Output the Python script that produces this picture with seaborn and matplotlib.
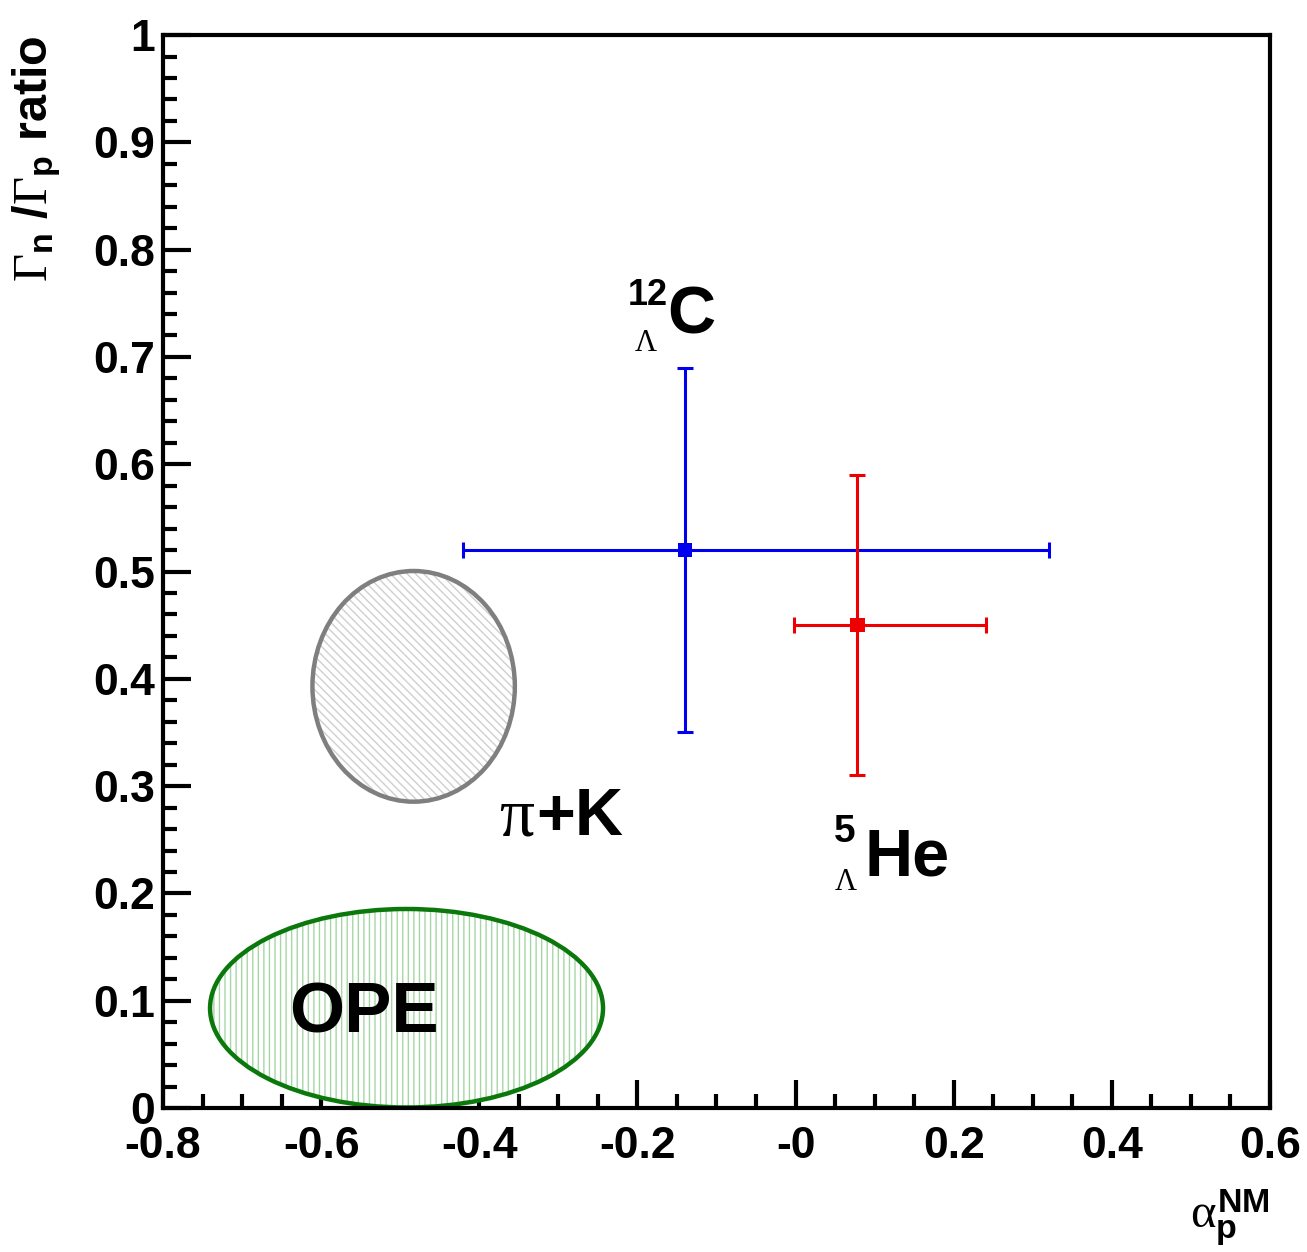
import matplotlib
matplotlib.use("Agg")
import matplotlib.pyplot as plt
import seaborn as sns
import numpy as np
import pandas as pd
from matplotlib.patches import Ellipse
from matplotlib.ticker import FixedLocator, FixedFormatter, MultipleLocator

# measured points (alpha_p^NM , Gamma_n/Gamma_p)
nuclei = ["12C", "5He"]
alpha_vals = [-0.14, 0.078]
alpha_err_lo = [0.28, 0.08]
alpha_err_hi = [0.46, 0.163]
ratio_vals = [0.52, 0.45]
ratio_err = [0.17, 0.14]
point_colors = ["#0000ee", "#ee0000"]

# theory regions: name, centre x, centre y, width, height
regions = ["pi+K", "OPE"]
region_x = [-0.483, -0.492]
region_y = [0.393, 0.093]
region_w = [0.256, 0.497]
region_h = [0.215, 0.185]

xtick_vals = [-0.8, -0.6, -0.4, -0.2, 0.0, 0.2, 0.4, 0.6]
xtick_labels = ["-0.8", "-0.6", "-0.4", "-0.2", "-0", "0.2", "0.4", "0.6"]
ytick_vals = [0, 0.1, 0.2, 0.3, 0.4, 0.5, 0.6, 0.7, 0.8, 0.9, 1.0]
ytick_labels = ["0", "0.1", "0.2", "0.3", "0.4", "0.5", "0.6", "0.7", "0.8", "0.9", "1"]

sns.set_style("ticks")
plt.rcParams["font.family"] = ["Liberation Sans", "DejaVu Sans"]
plt.rcParams["mathtext.fontset"] = "custom"
plt.rcParams["mathtext.rm"] = "Liberation Serif"
plt.rcParams["mathtext.it"] = "Liberation Serif"
plt.rcParams["mathtext.bf"] = "Liberation Sans:bold"
plt.rcParams["hatch.linewidth"] = 1.0
for key in ["text.color", "axes.labelcolor", "xtick.color", "ytick.color", "axes.edgecolor"]:
    plt.rcParams[key] = "black"

fig = plt.figure(figsize=(13.07, 12.52), dpi=100)
ax = fig.add_axes([0.1247, 0.115, 0.847, 0.857])

# theory ellipses (hatch + outline)
hatch_styles = ["\\\\\\\\", "|||"]
hatch_colors = ["#cfcfcf", "#a6d6a6"]
edge_colors = ["#7f7f7f", "#0a780a"]
for i in range(len(regions)):
    ax.add_patch(Ellipse((region_x[i], region_y[i]), region_w[i], region_h[i],
                         facecolor="white", edgecolor=hatch_colors[i],
                         hatch=hatch_styles[i], linewidth=0, zorder=1))
    ax.add_patch(Ellipse((region_x[i], region_y[i]), region_w[i], region_h[i],
                         facecolor="none", edgecolor=edge_colors[i],
                         linewidth=3.2, zorder=2))

# data points with error bars
df = pd.DataFrame({"alpha": alpha_vals, "ratio": ratio_vals, "nucleus": nuclei})
for i in range(len(nuclei)):
    ax.errorbar(alpha_vals[i], ratio_vals[i],
                xerr=[[alpha_err_lo[i]], [alpha_err_hi[i]]],
                yerr=[[ratio_err[i]], [ratio_err[i]]],
                fmt="none", ecolor=point_colors[i], elinewidth=2.2,
                capsize=6, capthick=2.2, zorder=3)
sns.scatterplot(data=df, x="alpha", y="ratio", hue="nucleus",
                palette=point_colors, marker="s", s=110, edgecolor="none",
                legend=False, ax=ax, zorder=4)

# labels on the plot
big = dict(fontsize=48, fontweight="bold", color="black")
ax.text(-0.162, 0.722, "C", **big)
ax.text(-0.212, 0.748, "12", fontsize=26, fontweight="bold")
ax.text(-0.204, 0.706, r"$\Lambda$", fontsize=22)
ax.text(0.087, 0.217, "He", **big)
ax.text(0.048, 0.248, "5", fontsize=28, fontweight="bold")
ax.text(0.048, 0.203, r"$\Lambda$", fontsize=22)
ax.text(-0.375, 0.254, r"$\pi$", fontsize=50)
ax.text(-0.328, 0.254, "+K", **big)
ax.text(-0.64, 0.07, "OPE", fontsize=51, fontweight="bold")

ax.set_xlim(-0.8, 0.6)
ax.set_ylim(0, 1)
ax.xaxis.set_major_locator(FixedLocator(xtick_vals))
ax.xaxis.set_major_formatter(FixedFormatter(xtick_labels))
ax.xaxis.set_minor_locator(MultipleLocator(0.05))
ax.yaxis.set_major_locator(FixedLocator(ytick_vals))
ax.yaxis.set_major_formatter(FixedFormatter(ytick_labels))
ax.yaxis.set_minor_locator(MultipleLocator(0.02))
ax.tick_params(which="major", direction="in", length=20, width=3,
               labelsize=32, pad=6, colors="black")
ax.tick_params(axis="x", which="major", pad=13)
ax.tick_params(which="minor", direction="in", length=10, width=3, colors="black")
for lab in ax.get_xticklabels() + ax.get_yticklabels():
    lab.set_fontweight("bold")
for side in ["top", "right", "bottom", "left"]:
    ax.spines[side].set_visible(True)
    ax.spines[side].set_linewidth(3)
    ax.spines[side].set_color("black")

ax.set_xlabel(r"$\alpha^{\mathbf{NM}}_{\mathbf{p}}$", fontsize=35, loc="right")
ax.xaxis.set_label_coords(1.0, -0.074)
ax.set_ylabel(r"$\Gamma_{\mathbf{n}}$ /$\Gamma_{\mathbf{p}}$ ratio", fontsize=35,
              fontweight="bold", loc="top")
ax.yaxis.set_label_coords(-0.09, 1.0)

fig.savefig("out.png", dpi=100)
